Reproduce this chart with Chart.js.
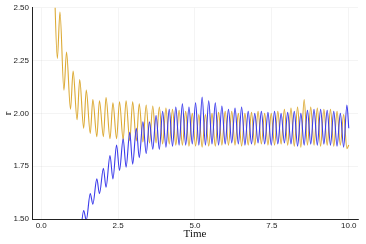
<!DOCTYPE html>
<html>
<head>
<meta charset="utf-8">
<script src="https://cdn.jsdelivr.net/npm/chart.js@4/dist/chart.umd.min.js"></script>
<style>
  html, body { margin: 0; padding: 0; background: #fff; }
  canvas { display: block; }
</style>
</head>
<body>
<canvas id="myChart" width="366" height="244"></canvas>
<script>
// times of the turning points
var times = [0, 0.395,
  0.524, 0.609, 0.738, 0.823, 0.952, 1.037, 1.166, 1.251, 1.380, 1.465,
  1.594, 1.679, 1.808, 1.893, 2.022, 2.107, 2.236, 2.331, 2.450, 2.545,
  2.664, 2.759, 2.878, 2.973, 3.092, 3.187, 3.306, 3.413, 3.520, 3.627,
  3.734, 3.841, 3.948, 4.055, 4.162, 4.269, 4.376, 4.483, 4.590, 4.697,
  4.804, 4.911, 5.018, 5.125, 5.232, 5.339, 5.446, 5.553, 5.660, 5.767,
  5.874, 5.981, 6.088, 6.195, 6.302, 6.409, 6.516, 6.623, 6.730, 6.837,
  6.944, 7.051, 7.158, 7.265, 7.372, 7.479, 7.586, 7.693, 7.800, 7.907,
  8.014, 8.121, 8.228, 8.335, 8.442, 8.549, 8.656, 8.763, 8.870, 8.977,
  9.084, 9.191, 9.298, 9.405, 9.512, 9.619, 9.726, 9.833, 9.940, 10.0];

var orangeR = [3.3, 2.75,
  2.26, 2.48, 2.11, 2.29, 2.02, 2.20, 1.97, 2.16, 1.93, 2.11,
  1.905, 2.065, 1.89, 2.06, 1.89, 2.075, 1.88, 2.05, 1.88, 2.055,
  1.875, 2.06, 1.87, 2.055, 1.87, 2.045, 1.865, 2.04, 1.86, 2.035,
  1.86, 2.03, 1.855, 2.025, 1.855, 2.02, 1.85, 2.015, 1.85, 2.01,
  1.845, 2.0, 1.845, 1.995, 1.84, 1.995, 1.845, 2.0, 1.845, 2.005,
  1.85, 2.01, 1.85, 2.01, 1.85, 2.0, 1.845, 2.0, 1.85, 2.005,
  1.85, 2.01, 1.855, 2.0, 1.85, 2.0, 1.85, 2.01, 1.855, 2.02,
  1.85, 2.025, 1.845, 2.03, 1.84, 2.065, 1.85, 2.03, 1.85, 2.025,
  1.845, 2.02, 1.85, 2.02, 1.845, 2.01, 1.85, 1.995, 1.833, 1.85];

var blueR = [0.9, 1.25,
  1.30, 1.25, 1.36, 1.31, 1.41, 1.36, 1.47, 1.42, 1.54, 1.495,
  1.62, 1.57, 1.69, 1.62, 1.74, 1.65, 1.80, 1.69, 1.85, 1.73,
  1.88, 1.745, 1.91, 1.76, 1.93, 1.79, 1.96, 1.81, 1.96, 1.83,
  1.99, 1.83, 2.01, 1.84, 2.02, 1.845, 2.03, 1.85, 2.045, 1.85,
  2.03, 1.855, 2.05, 1.85, 2.077, 1.85, 2.06, 1.855, 2.05, 1.85,
  2.035, 1.855, 2.02, 1.86, 2.025, 1.855, 2.03, 1.85, 2.01, 1.855,
  2.0, 1.86, 2.01, 1.855, 2.005, 1.85, 2.01, 1.855, 2.0, 1.86,
  2.005, 1.855, 2.01, 1.845, 2.0, 1.85, 2.015, 1.855, 2.02, 1.85,
  2.02, 1.855, 2.015, 1.85, 2.01, 1.845, 2.0, 1.84, 2.04, 1.93];

var xTicks = [0, 2.5, 5, 7.5, 10];
var yTicks = [1.5, 1.75, 2.0, 2.25, 2.5];

function toPoints(ys){
  var pts = [];
  for (let i = 0; i < times.length; i++) {
    pts.push({x: times[i], y: ys[i]});
  }
  return pts;
}

var tickFont = {family: 'Liberation Sans', size: 8};
var titleFont = {family: 'Liberation Serif', size: 11};
var gridStyle = {color: 'rgba(0,0,0,0.08)', lineWidth: 0.6, drawTicks: false};

var ctx = document.getElementById('myChart').getContext('2d');
var myChart = new Chart(ctx, {
  type: 'line',
  data: {
    datasets: [{
      label: 'y2',
      data: toPoints(blueR),
      borderColor: '#3c3ceb',
      borderWidth: 1.1,
      pointRadius: 0,
      cubicInterpolationMode: 'monotone'
    }, {
      label: 'y1',
      data: toPoints(orangeR),
      borderColor: '#dcaa35',
      borderWidth: 1.1,
      pointRadius: 0,
      cubicInterpolationMode: 'monotone'
    }]
  },
  options: {
    responsive: false,
    animation: false,
    layout: {padding: {top: 7, right: 8, bottom: 0, left: 0}},
    plugins: {legend: {display: false}, tooltip: {enabled: false}},
    scales: {
      x: {
        type: 'linear',
        min: -0.3,
        max: 10.3,
        afterBuildTicks: function(scale){
          scale.ticks = xTicks.map(function(v){ return {value: v}; });
        },
        afterFit: function(scale){ scale.height = 25; },
        ticks: {
          font: tickFont, color: '#222', padding: 2, maxRotation: 0,
          callback: function(v){ return v.toFixed(1); }
        },
        grid: gridStyle,
        border: {color: '#222', width: 1},
        title: {display: true, text: 'Time', font: titleFont, color: '#111', padding: {top: 0, bottom: 3}}
      },
      y: {
        min: 1.5,
        max: 2.5,
        afterBuildTicks: function(scale){
          scale.ticks = yTicks.map(function(v){ return {value: v}; });
        },
        afterFit: function(scale){ scale.width = 32; },
        ticks: {
          font: tickFont, color: '#222', padding: 3,
          callback: function(v){ return v.toFixed(2); }
        },
        grid: gridStyle,
        border: {color: '#222', width: 1},
        title: {display: true, text: 'r', font: titleFont, color: '#111', padding: {top: 2, bottom: 0}}
      }
    }
  }
});
</script>
</body>
</html>
